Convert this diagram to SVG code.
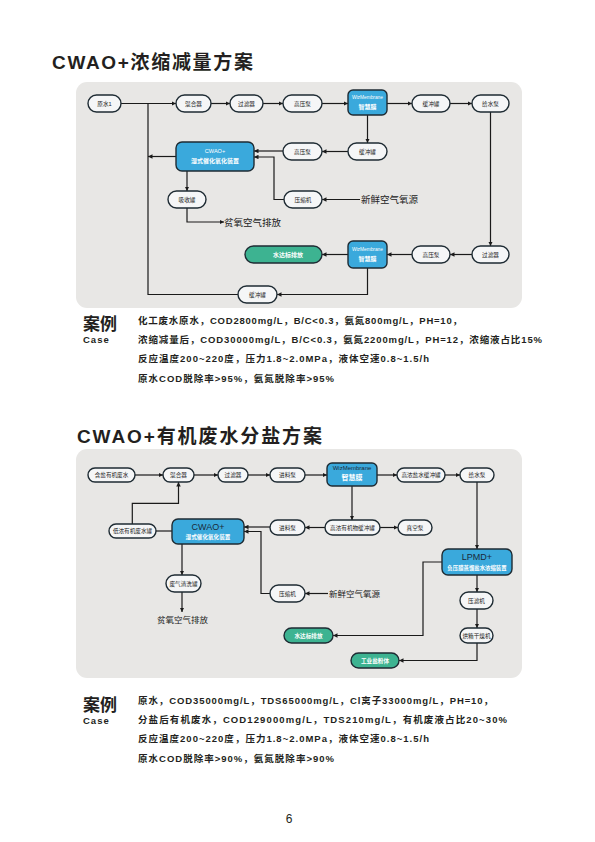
<svg xmlns="http://www.w3.org/2000/svg" width="595" height="842" viewBox="0 0 595 842">
<defs>
<style>
.panel{fill:#e8e7e5}
.n{fill:#f5f6f7;stroke:#1e2b33;stroke-width:1.4}
.b{fill:#3aa9dc;stroke:#1e2b33;stroke-width:1.4}
.g{fill:#3db391;stroke:#1e2b33;stroke-width:1.4}
.t{font-family:"Liberation Sans","Noto Sans CJK SC",sans-serif;font-size:5.6px;fill:#222;text-anchor:middle}
.tw{font-family:"Liberation Sans","Noto Sans CJK SC",sans-serif;font-size:5.6px;fill:#fff;text-anchor:middle;font-weight:bold}
.td{font-family:"Liberation Sans","Noto Sans CJK SC",sans-serif;fill:#1a2a3a;text-anchor:middle}
.lbl{font-family:"Liberation Sans","Noto Sans CJK SC",sans-serif;fill:#222}
.c path{fill:none;stroke:#1a1a1a;stroke-width:1.2}
.title{font-family:"Liberation Sans","Noto Sans CJK SC",sans-serif;font-weight:bold;font-size:19px;fill:#231f20}
.case{font-family:"Liberation Sans","Noto Sans CJK SC",sans-serif;font-weight:bold;font-size:9.5px;fill:#231f20}
.big{font-family:"Liberation Sans","Noto Sans CJK SC",sans-serif;font-weight:bold;font-size:17px;fill:#231f20}
.cs{font-family:"Liberation Sans","Noto Sans CJK SC",sans-serif;font-weight:bold;font-size:9.5px;fill:#231f20;letter-spacing:1px}
</style>
<marker id="a" viewBox="0 0 6 6" refX="6" refY="3" markerWidth="4.5" markerHeight="4.5" orient="auto" markerUnits="userSpaceOnUse">
<path d="M0,0 L6,3 L0,6 z" fill="#1a1a1a"/>
</marker>
</defs>
<rect width="595" height="842" fill="#fff"/>

<text class="title" x="52" y="68.5" textLength="201">CWAO+浓缩减量方案</text>
<rect class="panel" x="76" y="82" width="446" height="226" rx="11"/>

<g class="c">
<path d="M121,103.5 H176" marker-end="url(#a)"/>
<path d="M238,294.5 H148 V103.5"/>
<path d="M176,156.5 H148" marker-end="url(#a)"/>
<path d="M211,103.5 H230" marker-end="url(#a)"/>
<path d="M263,103.5 H283" marker-end="url(#a)"/>
<path d="M322,103.5 H348" marker-end="url(#a)"/>
<path d="M387,103.5 H412" marker-end="url(#a)"/>
<path d="M450,103.5 H472" marker-end="url(#a)"/>
<path d="M490.5,112 V246" marker-end="url(#a)"/>
<path d="M472,254.5 H450" marker-end="url(#a)"/>
<path d="M412,254.5 H387" marker-end="url(#a)"/>
<path d="M348,254.5 H322" marker-end="url(#a)"/>
<path d="M367.5,268 V294.5 H277" marker-end="url(#a)"/>
<path d="M367.5,115 V143" marker-end="url(#a)"/>
<path d="M348,151.5 H322" marker-end="url(#a)"/>
<path d="M283,151 H254" marker-end="url(#a)"/>
<path d="M284,199.5 H274 V157 H254" marker-end="url(#a)"/>
<path d="M360,199.5 H322" marker-end="url(#a)"/>
<path d="M187,171 V191" marker-end="url(#a)"/>
<path d="M187,208 V222 H224" marker-end="url(#a)"/>
</g>

<g id="t-raw"><rect class="n" x="88" y="95" width="33" height="17" rx="8.5"/><text class="t" x="104.5" y="105.5">原水1</text></g>
<g id="t-mix"><rect class="n" x="176" y="95" width="35" height="17" rx="8.5"/><text class="t" x="193.5" y="105.5">混合器</text></g>
<g id="t-filter"><rect class="n" x="230" y="95" width="33" height="17" rx="8.5"/><text class="t" x="246.5" y="105.5">过滤器</text></g>
<g id="t-hp1"><rect class="n" x="283" y="95" width="39" height="17" rx="8.5"/><text class="t" x="302.5" y="105.5">高压泵</text></g>
<g id="t-wiz1"><rect class="b" x="348" y="90" width="39" height="25" rx="5"/><text class="tw" x="367.5" y="99" style="font-size:4.8px;font-weight:normal">WizMembrane</text><text class="tw" x="367.5" y="108.5" style="font-size:6px">智慧膜</text></g>
<g id="t-buf1"><rect class="n" x="412" y="95" width="38" height="17" rx="8.5"/><text class="t" x="431" y="105.5">缓冲罐</text></g>
<g id="t-feed"><rect class="n" x="472" y="95" width="37" height="17" rx="8.5"/><text class="t" x="490.5" y="105.5">给水泵</text></g>
<g id="t-buf2"><rect class="n" x="348" y="143" width="39" height="17" rx="8.5"/><text class="t" x="367.5" y="153.5">缓冲罐</text></g>
<g id="t-hp2"><rect class="n" x="283" y="143" width="39" height="17" rx="8.5"/><text class="t" x="302.5" y="153.5">高压泵</text></g>
<g id="t-cwao"><rect class="b" x="176" y="142" width="78" height="29" rx="6"/><text class="tw" x="215" y="153" style="font-weight:normal">CWAO+</text><text class="tw" x="215" y="162.5" style="font-size:6px">湿式催化氧化装置</text></g>
<g id="t-abs"><rect class="n" x="168" y="191" width="38" height="17" rx="8.5"/><text class="t" x="187" y="201.5">吸收罐</text></g>
<g id="t-comp"><rect class="n" x="284" y="191" width="38" height="17" rx="8.5"/><text class="t" x="303" y="201.5">压缩机</text></g>
<text class="lbl" x="224" y="225.5" style="font-size:9.5px">贫氧空气排放</text>
<text class="lbl" x="361" y="203" style="font-size:9.5px">新鲜空气氧源</text>
<g id="t-out"><rect class="g" x="245" y="246" width="77" height="17" rx="8.5"/><text class="tw" x="288" y="256.5" style="font-size:6px">水达标排放</text></g>
<g id="t-wiz2"><rect class="b" x="348" y="241" width="39" height="27" rx="5"/><text class="tw" x="367.5" y="251" style="font-size:4.8px;font-weight:normal">WizMembrane</text><text class="tw" x="367.5" y="260.5" style="font-size:6px">智慧膜</text></g>
<g id="t-hp3"><rect class="n" x="412" y="246" width="38" height="17" rx="8.5"/><text class="t" x="431" y="256.5">高压泵</text></g>
<g id="t-filter2"><rect class="n" x="472" y="246" width="37" height="17" rx="8.5"/><text class="t" x="490.5" y="256.5">过滤器</text></g>
<g id="t-buf3"><rect class="n" x="238" y="286" width="39" height="17" rx="8.5"/><text class="t" x="257.5" y="296.5">缓冲罐</text></g>

<text class="big" x="83" y="330">案例</text>
<text class="cs" x="83" y="343">Case</text>
<text class="case" x="138" y="323.5" textLength="324">化工废水原水，COD2800mg/L，B/C&lt;0.3，氨氮800mg/L，PH=10，</text>
<text class="case" x="138" y="342.5" textLength="404">浓缩减量后，COD30000mg/L，B/C&lt;0.3，氨氮2200mg/L，PH=12，浓缩液占比15%</text>
<text class="case" x="138" y="361.5" textLength="291">反应温度200~220度，压力1.8~2.0MPa，液体空速0.8~1.5/h</text>
<text class="case" x="138" y="381.5" textLength="196">原水COD脱除率&gt;95%，氨氮脱除率&gt;95%</text>

<text class="title" x="77" y="443.3" textLength="245">CWAO+有机废水分盐方案</text>
<rect class="panel" x="76" y="449" width="446" height="229" rx="11"/>

<g class="c">
<path d="M135,475 H163" marker-end="url(#a)"/>
<path d="M194,475 H218" marker-end="url(#a)"/>
<path d="M248,475 H270" marker-end="url(#a)"/>
<path d="M305,475 H327" marker-end="url(#a)"/>
<path d="M377,475 H397" marker-end="url(#a)"/>
<path d="M445,475 H460" marker-end="url(#a)"/>
<path d="M477,482 V549" marker-end="url(#a)"/>
<path d="M352,486 V520" marker-end="url(#a)"/>
<path d="M325,527.5 H305" marker-end="url(#a)"/>
<path d="M380,527.5 H398" marker-end="url(#a)"/>
<path d="M270,527 H244" marker-end="url(#a)"/>
<path d="M132.3,524 V503.3 H178.5 V482" marker-end="url(#a)"/>
<path d="M172,531 H156"/>
<path d="M270,593.5 H261 V531.5 H244" marker-end="url(#a)"/>
<path d="M182,544 V575" marker-end="url(#a)"/>
<path d="M182,592 V612" marker-end="url(#a)"/>
<path d="M328,593.5 H305" marker-end="url(#a)"/>
<path d="M477,575 V592" marker-end="url(#a)"/>
<path d="M477,609 V628" marker-end="url(#a)"/>
<path d="M442,562 H423 V635.5 H333" marker-end="url(#a)"/>
<path d="M477,643 V660.5 H399" marker-end="url(#a)"/>
</g>

<g id="b-raw"><rect class="n" x="88" y="468" width="47" height="14" rx="7"/><text class="t" x="111.5" y="477">含盐有机废水</text></g>
<g id="b-mix"><rect class="n" x="163" y="468" width="31" height="14" rx="7"/><text class="t" x="178.5" y="477">混合器</text></g>
<g id="b-filter"><rect class="n" x="218" y="468" width="30" height="14" rx="7"/><text class="t" x="233" y="477">过滤器</text></g>
<g id="b-pump1"><rect class="n" x="270" y="468" width="35" height="14" rx="7"/><text class="t" x="287.5" y="477">进料泵</text></g>
<g id="b-wiz"><rect class="b" x="327" y="463" width="50" height="23" rx="5"/><text class="td" x="352" y="469.5" style="font-size:6px">WizMembrane</text><text class="tw" x="352" y="479.5" style="font-size:7px">智慧膜</text></g>
<g id="b-hbuf"><rect class="n" x="397" y="468" width="48" height="14" rx="7"/><text class="t" x="421" y="477">高浓盐水缓冲罐</text></g>
<g id="b-feed"><rect class="n" x="460" y="468" width="34" height="14" rx="7"/><text class="t" x="477" y="477">给水泵</text></g>
<g id="b-low"><rect class="n" x="109" y="524" width="47" height="14" rx="7"/><text class="t" x="132.5" y="533">低浓有机废水罐</text></g>
<g id="b-cwao"><rect class="b" x="172" y="519" width="72" height="25" rx="6"/><text class="td" x="208" y="530" style="font-size:9px">CWAO+</text><text class="tw" x="208" y="539" style="font-size:5.6px">湿式催化氧化装置</text></g>
<g id="b-pump2"><rect class="n" x="270" y="520" width="35" height="15" rx="7.5"/><text class="t" x="287.5" y="529.5">进料泵</text></g>
<g id="b-obuf"><rect class="n" x="325" y="520" width="55" height="15" rx="7.5"/><text class="t" x="352.5" y="529.5">高浓有机物缓冲罐</text></g>
<g id="b-vac"><rect class="n" x="398" y="520" width="34" height="15" rx="7.5"/><text class="t" x="415" y="529.5">真空泵</text></g>
<g id="b-lpmd"><rect class="b" x="442" y="549" width="70" height="26" rx="6"/><text class="td" x="477" y="560" style="font-size:9px">LPMD+</text><text class="tw" x="477" y="569.5" style="font-size:5.4px">负压膜蒸馏盐水浓缩装置</text></g>
<g id="b-wash"><rect class="n" x="166" y="575" width="35" height="17" rx="8.5"/><text class="t" x="183.5" y="585.5">废气清洗罐</text></g>
<g id="b-comp"><rect class="n" x="270" y="585" width="35" height="17" rx="8.5"/><text class="t" x="287.5" y="595.5">压缩机</text></g>
<text class="lbl" x="182.5" y="623" style="font-size:8.5px;text-anchor:middle">贫氧空气排放</text>
<text class="lbl" x="329" y="596.5" style="font-size:8.5px">新鲜空气氧源</text>
<g id="b-press"><rect class="n" x="460" y="592" width="33" height="17" rx="8.5"/><text class="t" x="476.5" y="602.5">压滤机</text></g>
<g id="b-out"><rect class="g" x="284" y="628" width="49" height="15" rx="7.5"/><text class="tw" x="308.5" y="637.5">水达标排放</text></g>
<g id="b-dry"><rect class="n" x="460" y="628" width="33" height="15" rx="7.5"/><text class="t" x="476.5" y="637.5">烘箱干燥机</text></g>
<g id="b-salt"><rect class="g" x="351" y="653" width="48" height="15" rx="7.5"/><text class="tw" x="375" y="662.5">工业盐粉体</text></g>

<text class="big" x="83" y="711">案例</text>
<text class="cs" x="83" y="724">Case</text>
<text class="case" x="138" y="703.5" textLength="355">原水，COD35000mg/L，TDS65000mg/L，Cl离子33000mg/L，PH=10，</text>
<text class="case" x="138" y="722.5" textLength="369">分盐后有机废水，COD129000mg/L，TDS210mg/L，有机废液占比20~30%</text>
<text class="case" x="138" y="741.5" textLength="291">反应温度200~220度，压力1.8~2.0MPa，液体空速0.8~1.5/h</text>
<text class="case" x="138" y="761.5" textLength="196">原水COD脱除率&gt;90%，氨氮脱除率&gt;90%</text>

<text x="289" y="823" style="font-family:'Liberation Sans',sans-serif;font-size:12px;fill:#231f20;text-anchor:middle">6</text>
</svg>
